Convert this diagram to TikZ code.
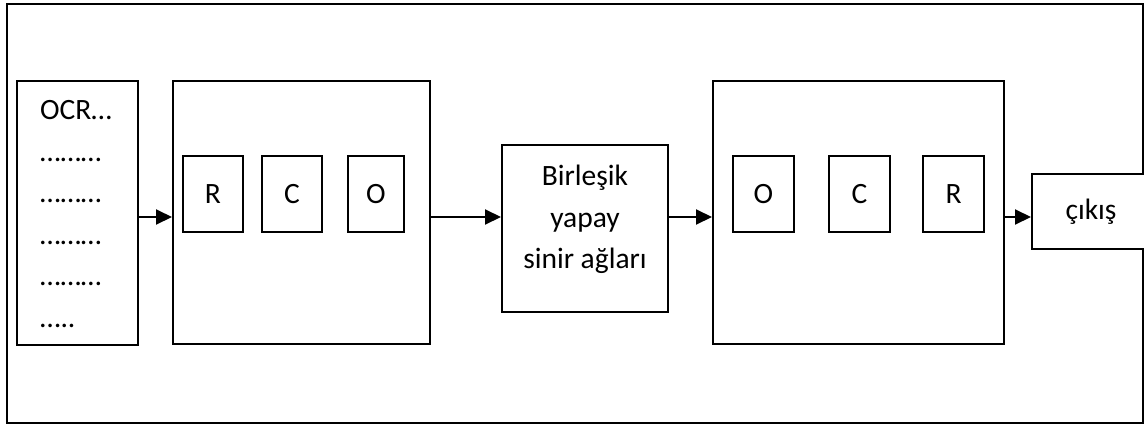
\documentclass[tikz,border=0pt]{standalone}
\usepackage{fontspec}
\setmainfont{Carlito}
\usetikzlibrary{arrows.meta}
\begin{document}
\begin{tikzpicture}[x=1pt,y=-1pt,
  box/.style={draw, line width=2pt, inner sep=0pt, fill=white},
  txt/.style={inner sep=0pt, font=\fontsize{29.5}{41}\selectfont},
  flow/.style={line width=2pt, -{Triangle[length=16pt,width=15pt]}}]
\clip (0,0) rectangle (1144,426);
% outer frame
\draw[line width=2pt] (7,4) rectangle (1143,423);
% arrow level
\coordinate (lvl) at (0,217);
% input text column
\node[box, minimum width=121pt, minimum height=264pt] (inp) at (77.5,213) {};
\node[txt, anchor=base west] (l1) at (40,119) {OCR…};
\node[txt, anchor=base west] (l2) at (40,161) {………};
\node[txt, anchor=base west] (l3) at (40,202) {………};
\node[txt, anchor=base west] (l4) at (40,244) {………};
\node[txt, anchor=base west] (l5) at (40,285) {………};
\node[txt, anchor=base west] (l6) at (40,327) {…..};
% first letter group
\node[box, minimum width=257pt, minimum height=263pt] (g1) at (301.5,212.5) {};
\node[box, txt, minimum width=60pt, minimum height=76pt] (r1) at (213,194) {R};
\node[box, txt, minimum width=60pt, minimum height=76pt] (c1) at (292,194) {C};
\node[box, txt, minimum width=56pt, minimum height=76pt] (o1) at (376,194) {O};
% network block
\node[box, minimum width=166pt, minimum height=167pt] (nn) at (585,228.5) {};
\node[txt, anchor=base] (n1) at (585,185) {Birleşik};
\node[txt, anchor=base] (n2) at (585,227) {yapay};
\node[txt, anchor=base] (n3) at (585,268) {sinir ağları};
% second letter group
\node[box, minimum width=291pt, minimum height=263pt] (g2) at (858.5,212.5) {};
\node[box, txt, minimum width=61pt, minimum height=76pt] (o2) at (763.5,194) {O};
\node[box, txt, minimum width=61pt, minimum height=76pt] (c2) at (859.5,194) {C};
\node[box, txt, minimum width=61pt, minimum height=76pt] (r2) at (953.5,194) {R};
% output
\node[box, txt, minimum width=118pt, minimum height=75pt] (out) at (1091,211.5) {çıkış};
% connectors
\draw[flow] (inp.east |- lvl) -- (g1.west |- lvl);
\draw[flow] (g1.east |- lvl) -- (nn.west |- lvl);
\draw[flow] (nn.east |- lvl) -- (g2.west |- lvl);
\draw[flow] (g2.east |- lvl) -- (out.west |- lvl);
\end{tikzpicture}
\end{document}
